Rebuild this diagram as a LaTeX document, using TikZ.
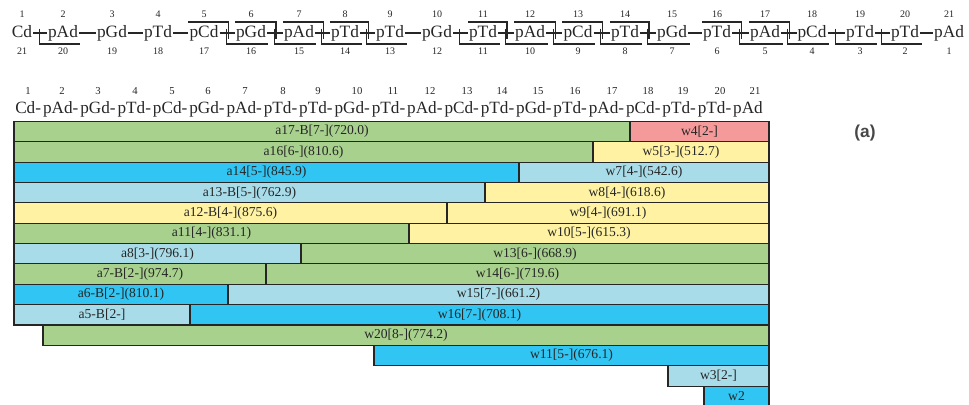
\documentclass[tikz,border=0pt]{standalone}
\usepackage{fontspec}
\setmainfont{Liberation Serif}
\newfontfamily\labelsans{Liberation Sans}
\usetikzlibrary{calc}
\definecolor{fgreen}{HTML}{A9D18E}
\definecolor{fred}{HTML}{F49A9A}
\definecolor{fyellow}{HTML}{FFF3A3}
\definecolor{fcyan}{HTML}{30C5F2}
\definecolor{flblue}{HTML}{A9DCE9}
\definecolor{inkc}{HTML}{262626}
\newcommand\fragbar[6]{%
  \pgfmathsetmacro\fbtop{121.5+20.35*(#3-1)}%
  \pgfmathsetmacro\fbbot{\fbtop+20.35}%
  \pgfmathsetmacro\fbmid{\fbtop+10.175}%
  \pgfmathsetmacro\fbx{(#4+#5)/2}%
  \draw[barline,fill=#2] (#4,\fbtop) rectangle (#5,\fbbot);
  \node[barlabel] (#1) at (\fbx,\fbmid) {#6};}
\begin{document}
\begin{tikzpicture}[x=0.75pt,y=-0.75pt,
  tword/.style={inner xsep=0.6pt, inner ysep=0pt, text height=9.1pt, text depth=2.9pt, font=\fontsize{13}{15}\selectfont, text=inkc},
  tnum/.style={inner sep=0pt, font=\fontsize{7.5}{8}\selectfont, text=inkc},
  tline/.style={line width=0.9pt, draw=inkc},
  sword/.style={anchor=base west, inner sep=0pt, font=\fontsize{12.9}{15}\selectfont, text=inkc},
  snum/.style={inner sep=0pt, font=\fontsize{8}{9}\selectfont, text=inkc},
  barline/.style={draw=inkc, line width=0.8pt},
  barlabel/.style={inner sep=0pt, font=\fontsize{10.2}{12}\selectfont, text=inkc}]
\useasboundingbox (0,0) rectangle (969,404);
\clip (0,0) rectangle (969,404);
% ---- top sequence with cleavage marks ----
\foreach \i/\w/\x in {1/Cd/22,2/pAd/63,3/pGd/112,4/pTd/158,5/pCd/204,6/pGd/251,7/pAd/299,8/pTd/345,9/pTd/390,10/pGd/437,11/pTd/483,12/pAd/530,13/pCd/578,14/pTd/625,15/pGd/672,16/pTd/717,17/pAd/765,18/pCd/812,19/pTd/860,20/pTd/905,21/pAd/949}{
  \pgfmathtruncatemacro\j{22-\i}
  \node[tword] (t\i) at (\x,33) {\w};
  \node[tnum] (tt\i) at (\x,14) {\i};
  \node[tnum] (tb\i) at (\x,51) {\j};
}
\foreach \i in {1,...,20}{
  \pgfmathtruncatemacro\j{\i+1}
  \draw[tline] (t\i.east) -- (t\j.west);
}
\coordinate (lvO) at (0,22);
\coordinate (lvU) at (0,44);
\coordinate (lvA) at (0,38.5);
\coordinate (lvB) at (0,28.5);
\foreach \n in {5,6,7,8,11,12,13,14,16,17}{
  \pgfmathtruncatemacro\m{\n+1}
  \coordinate (cR) at ($(t\n.east)!0.5!(t\m.west)+(0.9,0)$);
  \draw[tline] (t\n.west |- lvO) -- (cR |- lvO) -- (cR |- lvA);
}
\foreach \n in {1,5,6,7,8,10,11,12,13,14,16,17,18,19}{
  \pgfmathtruncatemacro\m{\n+1}
  \coordinate (cL) at ($(t\n.east)!0.5!(t\m.west)-(0.9,0)$);
  \coordinate (uE) at ($(t\m.east)+(1.5,0)$);
  \draw[tline] (cL |- lvB) -- (cL |- lvU) -- (uE |- lvU);
}
% ---- second sequence ----
\node[sword] (s1) at (15,113) {Cd-};
\foreach \i/\w in {2/pAd-,3/pGd-,4/pTd-,5/pCd-,6/pGd-,7/pAd-,8/pTd-,9/pTd-,10/pGd-,11/pTd-,12/pAd-,13/pCd-,14/pTd-,15/pGd-,16/pTd-,17/pAd-,18/pCd-,19/pTd-,20/pTd-,21/pAd}{
  \pgfmathtruncatemacro\p{\i-1}
  \node[sword] (s\i) at ([xshift=1.05pt]s\p.base east) {\w};
}
\foreach \i/\x in {1/28,2/62,3/98,4/135,5/172,6/208,7/245,8/283,9/318,10/357,11/393,12/430,13/467,14/502,15/538,16/575,17/612,18/648,19/683,20/720,21/755}{
  \node[snum] (sn\i) at (\x,91) {\i};
}
% ---- fragment bars ----
\fragbar{a17}{fgreen}{1}{14}{630}{a17-B[7-](720.0)}
\fragbar{w4}{fred}{1}{630}{769}{w4[2-]}
\fragbar{a16}{fgreen}{2}{14}{593}{a16[6-](810.6)}
\fragbar{w5}{fyellow}{2}{593}{769}{w5[3-](512.7)}
\fragbar{a14}{fcyan}{3}{14}{519}{a14[5-](845.9)}
\fragbar{w7}{flblue}{3}{519}{769}{w7[4-](542.6)}
\fragbar{a13}{flblue}{4}{14}{485}{a13-B[5-](762.9)}
\fragbar{w8}{fyellow}{4}{485}{769}{w8[4-](618.6)}
\fragbar{a12}{fyellow}{5}{14}{447}{a12-B[4-](875.6)}
\fragbar{w9}{fyellow}{5}{447}{769}{w9[4-](691.1)}
\fragbar{a11}{fgreen}{6}{14}{409}{a11[4-](831.1)}
\fragbar{w10}{fyellow}{6}{409}{769}{w10[5-](615.3)}
\fragbar{a8}{flblue}{7}{14}{301}{a8[3-](796.1)}
\fragbar{w13}{fgreen}{7}{301}{769}{w13[6-](668.9)}
\fragbar{a7}{fgreen}{8}{14}{266}{a7-B[2-](974.7)}
\fragbar{w14}{fgreen}{8}{266}{769}{w14[6-](719.6)}
\fragbar{a6}{fcyan}{9}{14}{228}{a6-B[2-](810.1)}
\fragbar{w15}{flblue}{9}{228}{769}{w15[7-](661.2)}
\fragbar{a5}{flblue}{10}{14}{190}{a5-B[2-]}
\fragbar{w16}{fcyan}{10}{190}{769}{w16[7-](708.1)}
\fragbar{w20}{fgreen}{11}{43}{769}{w20[8-](774.2)}
\fragbar{w11}{fcyan}{12}{374}{769}{w11[5-](676.1)}
\fragbar{w3}{flblue}{13}{668}{769}{w3[2-]}
\fragbar{w2}{fcyan}{14}{704}{769}{w2}
% ---- panel label ----
\node[font=\labelsans\bfseries\fontsize{13}{15}\selectfont, text=black!72] (panel) at (865,133) {(a)};
\end{tikzpicture}
\end{document}
